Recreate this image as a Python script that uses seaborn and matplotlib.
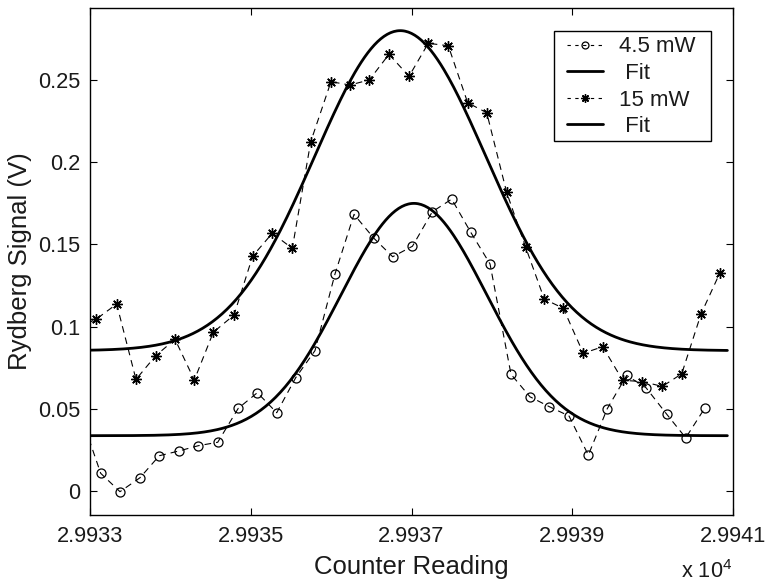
import numpy as np
import pandas as pd
import matplotlib
matplotlib.use("Agg")
import matplotlib.pyplot as plt
import seaborn as sns
from matplotlib.lines import Line2D
from matplotlib.patches import Rectangle

# ---- data ----
x_4p5 = [29332.892, 29333.133, 29333.373, 29333.622, 29333.862, 29334.107, 29334.347,
         29334.589, 29334.845, 29335.082, 29335.323, 29335.559, 29335.799, 29336.048,
         29336.285, 29336.533, 29336.766, 29337.012, 29337.259, 29337.500, 29337.737,
         29337.977, 29338.238, 29338.474, 29338.714, 29338.960, 29339.200, 29339.436,
         29339.677, 29339.918, 29340.175, 29340.412, 29340.653]
y_4p5 = [0.045, 0.0106, -0.0006, 0.0079, 0.0213, 0.0242, 0.0274, 0.0295, 0.0502, 0.0597,
         0.0475, 0.0688, 0.0853, 0.132, 0.1683, 0.1537, 0.1425, 0.1489, 0.1699, 0.1776,
         0.1574, 0.1381, 0.0709, 0.0572, 0.0512, 0.0455, 0.0217, 0.0500, 0.0702, 0.0627,
         0.0466, 0.0322, 0.0506]

x_15 = [29332.832, 29333.075, 29333.332, 29333.572, 29333.817, 29334.058, 29334.298,
        29334.534, 29334.792, 29335.024, 29335.268, 29335.517, 29335.746, 29335.998,
        29336.235, 29336.475, 29336.720, 29336.969, 29337.209, 29337.458, 29337.699,
        29337.936, 29338.184, 29338.421, 29338.652, 29338.889, 29339.137, 29339.379,
        29339.628, 29339.872, 29340.120, 29340.362, 29340.602, 29340.838]
y_15 = [0.099, 0.1044, 0.1137, 0.0678, 0.0822, 0.0922, 0.0674, 0.0965, 0.107, 0.1429,
        0.1568, 0.1476, 0.2125, 0.2491, 0.2471, 0.2502, 0.2658, 0.2524, 0.2725, 0.2710,
        0.2363, 0.2302, 0.1817, 0.1482, 0.1167, 0.1111, 0.0837, 0.0877, 0.0672, 0.0665,
        0.0635, 0.0712, 0.1076, 0.1328]

# Gaussian fit parameters (center, sigma, amplitude, baseline)
fit_4p5 = [29337.03, 0.907, 0.1415, 0.0335]
fit_15 = [29336.86, 1.066, 0.1949, 0.0853]
fit_range = [29332.89, 29340.93]

x_ticks = [29333, 29335, 29337, 29339, 29341]
x_tick_labels = ["2.9933", "2.9935", "2.9937", "2.9939", "2.9941"]
y_ticks = [0, 0.05, 0.1, 0.15, 0.2, 0.25]
y_tick_labels = ["0", "0.05", "0.1", "0.15", "0.2", "0.25"]
legend_labels = ["4.5 mW", " Fit", "15 mW", " Fit"]

# ---- style ----
sns.set_theme(style="ticks")
plt.rcParams["font.family"] = ["Liberation Sans", "DejaVu Sans"]
plt.rcParams["mathtext.fontset"] = "custom"
plt.rcParams["mathtext.rm"] = "Liberation Sans"
plt.rcParams["mathtext.it"] = "Liberation Sans:italic"
plt.rcParams["axes.linewidth"] = 1.0
TXT = "#1a1a1a"

fig = plt.figure(figsize=(7.67, 5.86), dpi=100)
ax = fig.add_axes([90 / 767, 71 / 586, 643 / 767, 507 / 586])


def gauss_curve(p):
    xs = np.linspace(fit_range[0], fit_range[1], 400)
    c, s, a, b = p
    return pd.DataFrame({"x": xs, "y": b + a * np.exp(-0.5 * ((xs - c) / s) ** 2)})


df_a = pd.DataFrame({"x": x_4p5, "y": y_4p5})
df_b = pd.DataFrame({"x": x_15, "y": y_15})
fa = gauss_curve(fit_4p5)
fb = gauss_curve(fit_15)

dash = (6, 4.5)
asterisk = (8, 2, 0)

sns.lineplot(data=df_a, x="x", y="y", ax=ax, sort=False, estimator=None,
             color="black", lw=0.8, linestyle=(0, dash), marker="o",
             markersize=6.5, markerfacecolor="none", markeredgecolor="black",
             markeredgewidth=0.9)
sns.lineplot(data=fa, x="x", y="y", ax=ax, sort=False, estimator=None,
             color="black", lw=2.0)
sns.lineplot(data=df_b, x="x", y="y", ax=ax, sort=False, estimator=None,
             color="black", lw=0.8, linestyle=(0, dash), marker=asterisk,
             markersize=7.5, markeredgecolor="black", markeredgewidth=1.0)
sns.lineplot(data=fb, x="x", y="y", ax=ax, sort=False, estimator=None,
             color="black", lw=2.0)

ax.set_xlim(29333, 29341)
ax.set_ylim(-0.0148, 0.294)
ax.set_xticks(x_ticks)
ax.set_xticklabels(x_tick_labels)
ax.set_yticks(y_ticks)
ax.set_yticklabels(y_tick_labels)
ax.tick_params(direction="in", length=5, width=0.8, top=True, right=True,
               labelsize=15.7, colors="black", labelcolor=TXT)
ax.tick_params(axis="x", pad=8)
ax.tick_params(axis="y", pad=7)
for sp in ax.spines.values():
    sp.set_visible(True)
    sp.set_color("black")

ax.set_xlabel("Counter Reading", fontsize=18.5, labelpad=6, color=TXT)
ax.set_ylabel("Rydberg Signal (V)", fontsize=18.5, labelpad=4, color=TXT)

fig.text(681 / 767, 1 - 578 / 586, r"x 10$^4$", fontsize=15.7, ha="left",
         va="baseline", color=TXT)

# legend frame drawn at the reference position, legend entries placed inside it
ax.add_patch(Rectangle((0.7216, 0.7377), 0.9653 - 0.7216, 0.9552 - 0.7377,
                       transform=ax.transAxes, facecolor="white", edgecolor="black",
                       lw=1.0, zorder=4.9))

handles = [
    Line2D([], [], color="black", lw=0.8, linestyle=(0, (3, 4)), marker="o",
           markersize=5, markerfacecolor="none", markeredgewidth=0.9),
    Line2D([], [], color="black", lw=2.0),
    Line2D([], [], color="black", lw=0.8, linestyle=(0, (3, 4)), marker=asterisk,
           markersize=6, markeredgewidth=1.0),
    Line2D([], [], color="black", lw=2.0),
]
leg = ax.legend(handles, legend_labels, loc="upper left",
                bbox_to_anchor=((566.7 - 90) / 643, (515 - 36.5) / 507),
                borderaxespad=0, borderpad=0, fontsize=16, frameon=False,
                handlelength=1.65, handletextpad=0.7, labelspacing=0.25,
                numpoints=1)
for t in leg.get_texts():
    t.set_color(TXT)

fig.savefig("out.png", dpi=100)
